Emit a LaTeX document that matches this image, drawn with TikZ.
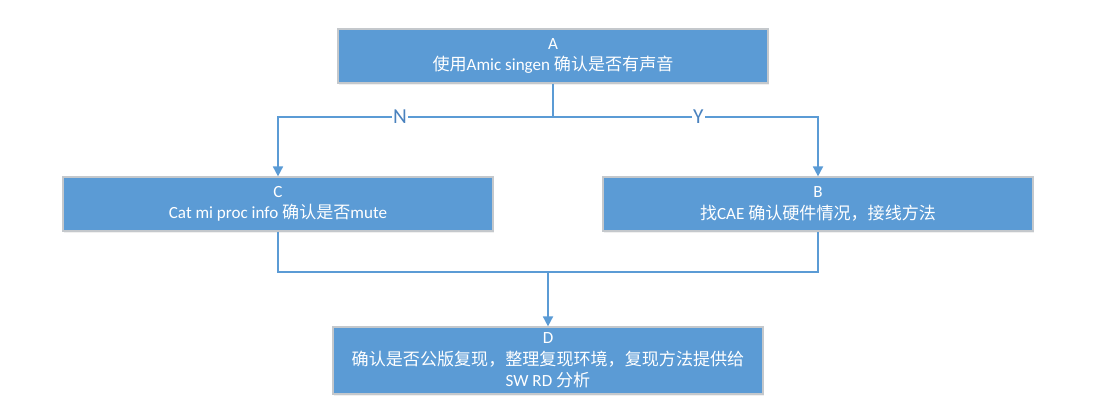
\documentclass[tikz,border=0pt]{standalone}
\usepackage{fontspec}
\setmainfont{Carlito}
\newfontfamily\cjk{Noto Sans CJK SC}
\usetikzlibrary{arrows.meta,positioning,calc,shadows}
\definecolor{boxblue}{HTML}{5B9BD5}
\definecolor{boxedge}{HTML}{C4C8CC}
\definecolor{lblblue}{HTML}{4A82BE}
\tikzset{
  %Define standard arrow tip
  >={Triangle[length=7.5pt,width=7.5pt]},
  %Define style for boxes
  kasten/.style={
    rectangle,
    fill=boxblue,
    draw=boxedge, line width=0.9pt,
    text=white,
    minimum width=322.5pt,
    minimum height=40.5pt,
    inner sep=0pt,
    align=center,
    font=\fontsize{12.8pt}{16pt}\selectfont,
    drop shadow={opacity=0.12,shadow xshift=1pt,shadow yshift=-1.2pt}},
  % Define connector style
  linie/.style={
    draw=boxblue,
    line width=1.3pt},
  pil/.style={
    linie,
    ->},
  % Define style for branch labels
  zweig/.style={
    fill=white,
    text=lblblue,
    inner sep=1pt,
    font=\fontsize{16pt}{16pt}\selectfont}
}
\begin{document}
\begin{tikzpicture}[x=0.75pt,y=-0.75pt]
    \useasboundingbox (0,0) rectangle (1103,418);
    \node[kasten] (a) at (553,56) {A\\{\cjk 使用}Amic singen {\cjk 确认是否有声音}};
    \node[kasten] (c) at (278,204) {C\\Cat mi proc info {\cjk 确认是否}mute};
    \node[kasten] (b) at (818,204) {B\\{\cjk 找}CAE {\cjk 确认硬件情况，接线方法}};
    \node[kasten,minimum height=50.25pt] (d) at (548,360.5)
      {D\\{\cjk 确认是否公版复现，整理复现环境，复现方法提供给}\\SW RD {\cjk 分析}};
    \coordinate (split) at (553,117);
    \coordinate (join) at (548,272);
    \path[linie] (a) -- (split);
    \path[pil] (split) -| node[zweig,pos=0.278] {N} (c);
    \path[pil] (split) -| node[zweig,pos=0.274] {Y} (b);
    \path[linie] (c.south) -- (c.south |- join) -- (b.south |- join) -- (b.south);
    \path[pil] (join) -- (d);
  \end{tikzpicture}
\end{document}
